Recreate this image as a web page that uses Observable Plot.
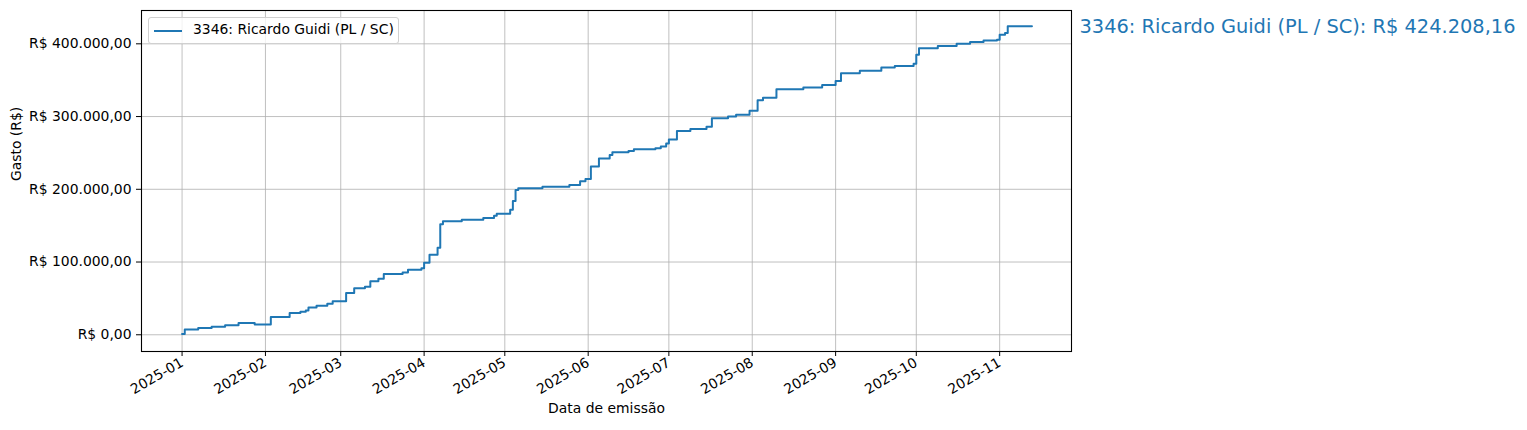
<!DOCTYPE html>
<html><head><meta charset="utf-8">
<script src="https://cdn.jsdelivr.net/npm/d3@7"></script>
<script src="https://cdn.jsdelivr.net/npm/@observablehq/plot@0.6"></script>
<style>
body{margin:0;background:#fff;font-family:"DejaVu Sans",sans-serif;}
#wrap{position:relative;width:1527px;height:430px;overflow:hidden;}
#legend{position:absolute;left:148px;top:17px;width:249px;height:25px;border:1px solid #d0d0d0;border-radius:3px;background:rgba(255,255,255,0.8);font-size:13.9px;color:#000;}
#legend .sw{position:absolute;left:5px;top:12px;width:28px;height:0;border-top:2px solid #1f77b4;}
#legend .tx{position:absolute;left:44px;top:3px;white-space:nowrap;}
</style>
</head><body>
<div id="wrap"><div id="chart"></div>
<div id="legend"><div class="sw"></div><div class="tx"></div></div>
</div>
<script>
const seriesName = "3346: Ricardo Guidi (PL / SC)";
const dates = ["2025-01-01","2025-01-02","2025-01-07","2025-01-12","2025-01-17","2025-01-22","2025-01-28",
"2025-02-03","2025-02-10","2025-02-14","2025-02-16","2025-02-17","2025-02-20","2025-02-24","2025-02-26",
"2025-03-03","2025-03-06","2025-03-10","2025-03-12","2025-03-15","2025-03-17","2025-03-24","2025-03-26","2025-03-31",
"2025-04-01","2025-04-03","2025-04-06","2025-04-07","2025-04-08","2025-04-15","2025-04-23","2025-04-27","2025-04-28",
"2025-05-03","2025-05-04","2025-05-05","2025-05-06","2025-05-15","2025-05-25","2025-05-29","2025-05-31",
"2025-06-02","2025-06-05","2025-06-09","2025-06-10","2025-06-16","2025-06-18","2025-06-26","2025-06-28","2025-06-30",
"2025-07-01","2025-07-04","2025-07-09","2025-07-15","2025-07-17","2025-07-23","2025-07-26","2025-07-31",
"2025-08-03","2025-08-05","2025-08-10","2025-08-20","2025-08-27",
"2025-09-01","2025-09-03","2025-09-10","2025-09-18","2025-09-23","2025-09-30",
"2025-10-01","2025-10-02","2025-10-09","2025-10-16","2025-10-21","2025-10-26","2025-10-31",
"2025-11-01","2025-11-03","2025-11-04","2025-11-13"];
const totals = [1200,7400,9300,11000,13000,16300,14000,
24500,30000,31500,33500,37500,40000,42500,46000,
57500,64000,66000,73500,77000,83500,85500,89500,91500,
99000,110000,119500,152000,156000,158000,160500,163500,166500,
172000,184000,199000,201500,203500,206000,211000,214000,
231500,242500,247000,251000,252500,255000,256500,259000,263000,
268500,280000,283000,286000,297500,300000,302500,308000,
322500,326000,337500,340000,343500,
349000,359500,363000,367500,369500,372500,
385000,394000,397000,400000,402500,404500,405500,
412500,415000,424208.16,424208.16];
const yTicks = [0,100000,200000,300000,400000];
const xTickLabels = ["2025-01","2025-02","2025-03","2025-04","2025-05","2025-06","2025-07","2025-08","2025-09","2025-10","2025-11"];

const loc = d3.formatLocale({decimal:",",thousands:".",grouping:[3],currency:["",""]});
const num = loc.format(",.2f");
const fmt = v => "R$ " + num(v);
const data = dates.map((d,i)=>({date:new Date(d+"T00:00:00Z"), total:totals[i]}));
const xTicks = xTickLabels.map(s=>new Date(s+"-01T00:00:00Z"));
const annot = seriesName + ": " + fmt(totals[totals.length-1]);
document.querySelector("#legend .tx").textContent = seriesName;

const grid = {stroke:"#b0b0b0", strokeOpacity:1, strokeWidth:0.8};
const chart = Plot.plot({
  width:1527, height:430,
  marginLeft:141, marginRight:456, marginTop:10, marginBottom:79,
  style:{fontFamily:"DejaVu Sans", fontSize:"13.9px", color:"black", background:"transparent", overflow:"visible"},
  x:{type:"utc", domain:[new Date("2024-12-16T22:00:00Z"), new Date("2025-11-27T17:00:00Z")]},
  y:{domain:[-23000,445800]},
  marks:[
    Plot.gridX(xTicks, grid),
    Plot.gridY(yTicks, grid),
    Plot.lineY(data,{x:"date", y:"total", curve:"step-after", stroke:"#1f77b4", strokeWidth:2}),
    Plot.frame({stroke:"black", strokeWidth:1.1}),
    Plot.axisY(yTicks,{tickFormat:fmt, tickSize:5, tickPadding:5, label:null, fontSize:13.9}),
    Plot.axisX(xTicks,{tickFormat:d3.utcFormat("%Y-%m"), tickRotate:-30, tickSize:5, tickPadding:5, label:null, fontSize:13.9}),
    Plot.text(["Gasto (R$)"],{frameAnchor:"left", dx:-125, rotate:-90, fontSize:13.9, fill:"black"}),
    Plot.text(["Data de emissão"],{frameAnchor:"bottom", dy:61, fontSize:13.9, fill:"black"}),
    Plot.text([annot],{frameAnchor:"top-right", dx:8, dy:9, textAnchor:"start", fill:"#1f77b4", fontSize:19.4})
  ]
});
document.getElementById("chart").appendChild(chart);
</script>
</body></html>
